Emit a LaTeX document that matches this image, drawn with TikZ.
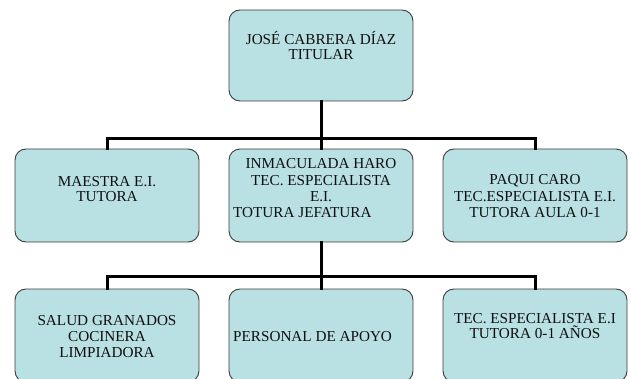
\documentclass[tikz,border=0pt]{standalone}
\usepackage{fontspec}
\setmainfont{Liberation Serif}
\definecolor{boxfill}{RGB}{185,224,227}
\definecolor{boxline}{RGB}{60,60,60}
\definecolor{txt}{RGB}{15,15,15}
\begin{document}
\begin{tikzpicture}[x=1pt,y=-1pt,
  orgbox/.style={draw=boxline,line width=0.9pt,fill=boxfill,rounded corners=11pt,
    minimum width=184pt,minimum height=93pt,inner sep=0pt},
  ln/.style={anchor=base,inner sep=0pt,text=txt,font=\fontsize{15.2}{16}\selectfont},
  lnl/.style={ln,anchor=base west},
  conn/.style={draw=black,line width=3pt,line join=miter,line cap=rect}]
\useasboundingbox (0,0) rectangle (631,379);
% boxes
\node[orgbox,minimum height=91pt] (top) at (321,55.5) {};
\node[orgbox] (b1) at (107,195.5) {};
\node[orgbox] (b2) at (321,195.5) {};
\node[orgbox] (b3) at (535,195.5) {};
\node[orgbox] (c1) at (107,335.5) {};
\node[orgbox] (c2) at (321,335.5) {};
\node[orgbox] (c3) at (535,335.5) {};
% connectors
\coordinate (j1) at (321,138.5);
\coordinate (j2) at (321,276.5);
\draw[conn] (top.south) -- (j1);
\draw[conn] (b1.north) |- (j1) -| (b3.north);
\draw[conn] (j1) -- (b2.north);
\draw[conn] (b2.south) -- (j2);
\draw[conn] (c1.north) |- (j2) -| (c3.north);
\draw[conn] (j2) -- (c2.north);
% texts
\node[ln] (ta) at (321,45) {JOSÉ CABRERA DÍAZ};
\node[ln] (tb) at (321,60) {TITULAR};
\node[ln] (b1a) at (107,186.7) {MAESTRA E.I.};
\node[ln] (b1b) at (107,201.7) {TUTORA};
\node[ln] (b2a) at (321,169) {INMACULADA HARO};
\node[ln] (b2b) at (321,185.7) {TEC. ESPECIALISTA};
\node[ln] (b2c) at (321,201.7) {E.I.};
\node[lnl] (b2d) at (233,217.7) {TOTURA JEFATURA};
\node[ln] (b3a) at (535,185) {PAQUI CARO};
\node[ln] (b3b) at (535,201.7) {TEC.ESPECIALISTA E.I.};
\node[ln] (b3c) at (535,217.7) {TUTORA AULA 0-1};
\node[ln] (c1a) at (107,325) {SALUD GRANADOS};
\node[ln] (c1b) at (107,341.7) {COCINERA};
\node[ln] (c1c) at (107,357) {LIMPIADORA};
\node[lnl] (c2a) at (233,341.7) {PERSONAL DE APOYO};
\node[ln] (c3a) at (535,323.3) {TEC. ESPECIALISTA E.I};
\node[ln] (c3b) at (535,338) {TUTORA 0-1 AÑOS};
\end{tikzpicture}
\end{document}
